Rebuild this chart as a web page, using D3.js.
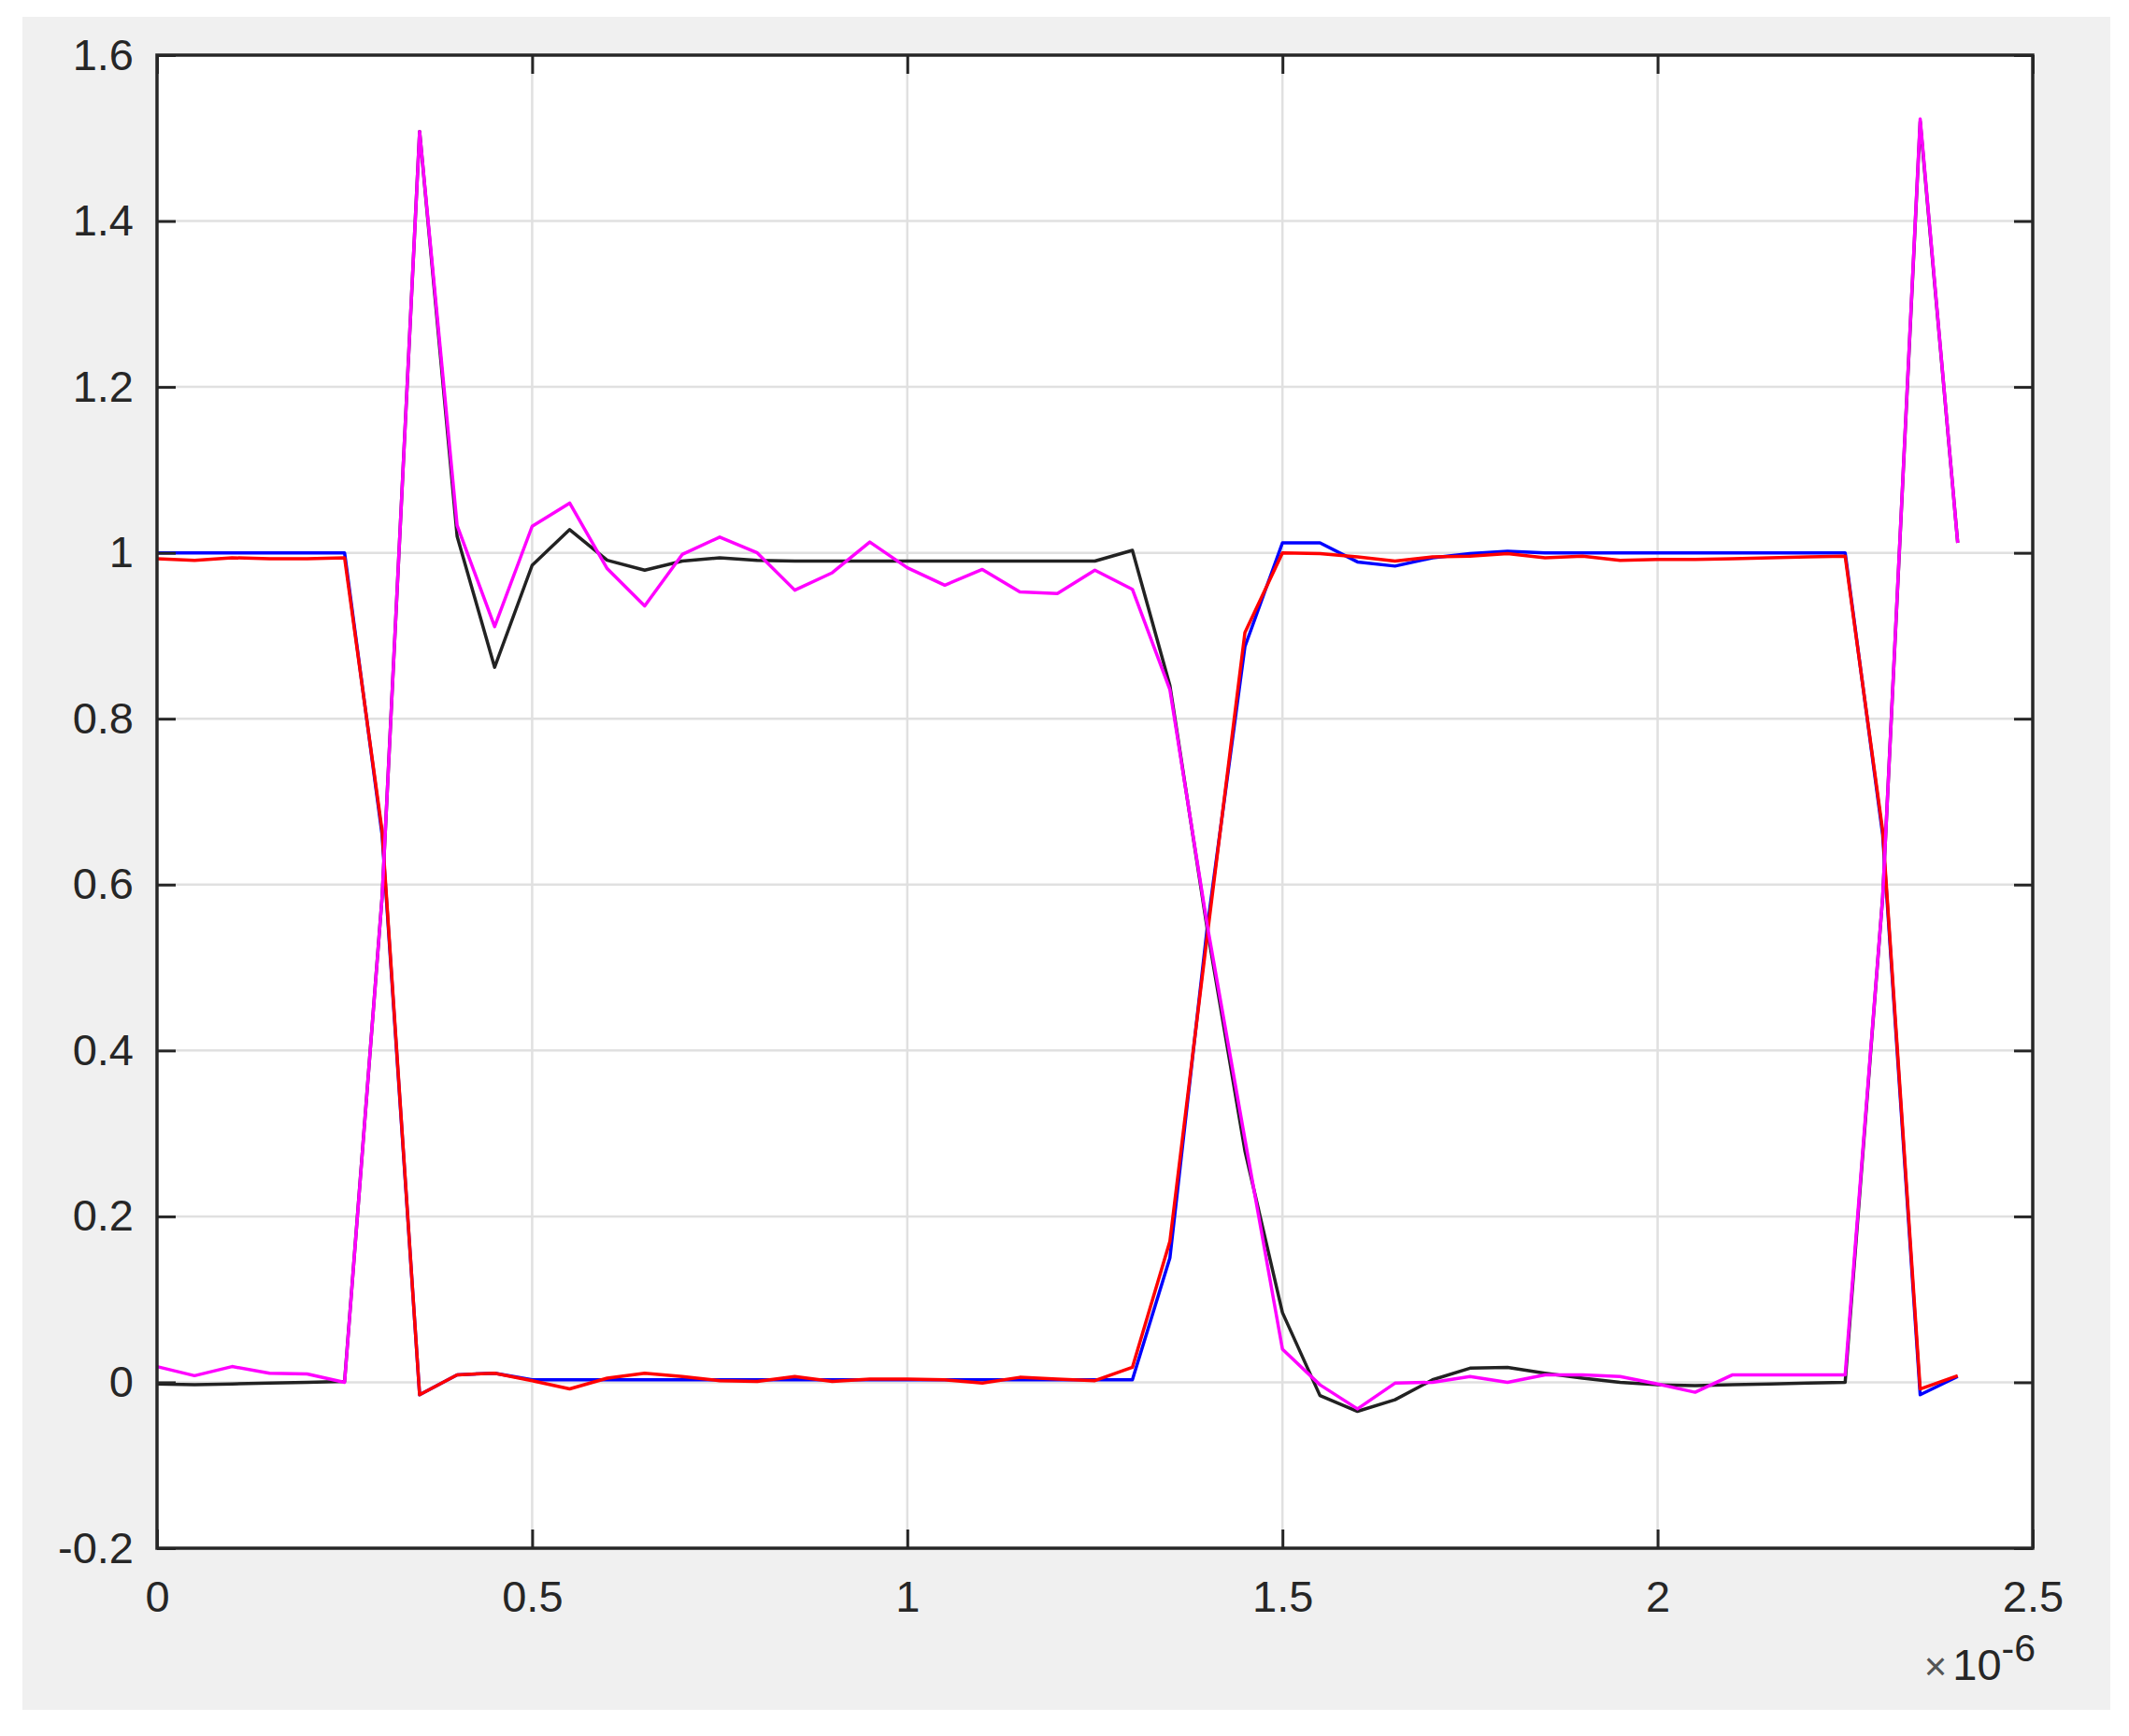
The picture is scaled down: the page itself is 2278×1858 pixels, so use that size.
<!DOCTYPE html>
<html>
<head>
<meta charset="utf-8">
<script src="https://cdn.jsdelivr.net/npm/d3@7"></script>
<style>
  html, body { margin: 0; padding: 0; background: #fff; }
  svg { display: block; font-family: "Liberation Sans", Arial, Helvetica, sans-serif; }
  .tick text { fill: #262626; font-size: 47px; }
  .domain { display: none; }
</style>
</head>
<body>
<div id="chart"></div>
<script>
// sample times, in microseconds (axis shows x10^-6)
const timeUs = [0, 0.05, 0.1, 0.15, 0.2, 0.25, 0.3, 0.35, 0.4, 0.45,
  0.5, 0.55, 0.6, 0.65, 0.7, 0.75, 0.8, 0.85, 0.9, 0.95,
  1.0, 1.05, 1.1, 1.15, 1.2, 1.25, 1.3, 1.35, 1.4, 1.45,
  1.5, 1.55, 1.6, 1.65, 1.7, 1.75, 1.8, 1.85, 1.9, 1.95,
  2.0, 2.05, 2.1, 2.15, 2.2, 2.25, 2.3, 2.35, 2.4]

const blueVals = [1.0, 1.0, 1.0, 1.0, 1.0, 1.0, 0.66, -0.015, 0.009, 0.011,
  0.003, 0.003, 0.003, 0.003, 0.003, 0.003, 0.003, 0.003, 0.003, 0.003,
  0.003, 0.003, 0.003, 0.003, 0.003, 0.003, 0.003, 0.15, 0.55, 0.887,
  1.012, 1.012, 0.989, 0.984, 0.994, 0.999, 1.002, 1.0, 1.0, 1.0,
  1.0, 1.0, 1.0, 1.0, 1.0, 1.0, 0.66, -0.015, 0.007]

const blackVals = [-0.002, -0.003, -0.002, -0.001, 0.0, 0.001, 0.585, 1.508, 1.02, 0.862,
  0.985, 1.028, 0.991, 0.979, 0.99, 0.994, 0.991, 0.99, 0.99, 0.99,
  0.99, 0.99, 0.99, 0.99, 0.99, 0.99, 1.003, 0.84, 0.545, 0.279,
  0.084, -0.016, -0.035, -0.021, 0.003, 0.017, 0.018, 0.011, 0.005, 0.0,
  -0.003, -0.004, -0.003, -0.002, -0.001, 0.0, 0.585, 1.52, 1.012]

const redVals = [0.993, 0.991, 0.994, 0.993, 0.993, 0.994, 0.665, -0.015, 0.009, 0.011,
  0.002, -0.008, 0.005, 0.011, 0.007, 0.002, 0.001, 0.007, 0.001, 0.004,
  0.004, 0.003, -0.001, 0.006, 0.004, 0.002, 0.018, 0.17, 0.54, 0.904,
  1.0, 0.999, 0.995, 0.99, 0.995, 0.996, 0.999, 0.994, 0.996, 0.991,
  0.992, 0.992, 0.993, 0.994, 0.995, 0.996, 0.665, -0.008, 0.008]

const magentaVals = [0.019, 0.008, 0.019, 0.011, 0.01, 0.0, 0.585, 1.508, 1.033, 0.911,
  1.032, 1.06, 0.981, 0.936, 0.998, 1.019, 1.0, 0.955, 0.976, 1.013,
  0.982, 0.961, 0.98, 0.953, 0.951, 0.979, 0.956, 0.835, 0.55, 0.293,
  0.04, -0.003, -0.032, -0.001, 0.0, 0.007, 0.0, 0.009, 0.009, 0.007,
  -0.002, -0.012, 0.009, 0.009, 0.009, 0.009, 0.585, 1.523, 1.012]

const xTicks = [0, 0.5, 1, 1.5, 2, 2.5]
const yTicks = [-0.2, 0, 0.2, 0.4, 0.6, 0.8, 1, 1.2, 1.4, 1.6]

const series = [
  {name: 'blue', color: '#0000ff', values: blueVals},
  {name: 'black', color: '#222222', values: blackVals},
  {name: 'red', color: '#ff0000', values: redVals},
  {name: 'magenta', color: '#ff00ff', values: magentaVals}
]

const width = 2278
const height = 1858
const plot = {left: 168, right: 2175, top: 59, bottom: 1657}

const x = d3.scaleLinear().domain([0, 2.5]).range([plot.left, plot.right])
const y = d3.scaleLinear().domain([-0.2, 1.6]).range([plot.bottom, plot.top])

const svg = d3.select('#chart')
  .append('svg')
  .attr('width', width)
  .attr('height', height)

// figure background
svg.append('rect')
  .attr('x', 24).attr('y', 18)
  .attr('width', 2234).attr('height', 1812)
  .attr('fill', '#f0f0f0')

svg.append('rect')
  .attr('x', plot.left).attr('y', plot.top)
  .attr('width', plot.right - plot.left).attr('height', plot.bottom - plot.top)
  .attr('fill', '#fff')

// grid
const grid = svg.append('g')
grid.selectAll('.vgrid')
  .data(xTicks.slice(1, -1))
  .enter()
  .append('line')
  .attr('x1', d => x(d)).attr('x2', d => x(d))
  .attr('y1', plot.top).attr('y2', plot.bottom)
  .attr('stroke', '#e0e0e0')
  .attr('stroke-width', 2.5)

grid.selectAll('.hgrid')
  .data(yTicks.slice(1, -1))
  .enter()
  .append('line')
  .attr('y1', d => y(d)).attr('y2', d => y(d))
  .attr('x1', plot.left).attr('x2', plot.right)
  .attr('stroke', '#e0e0e0')
  .attr('stroke-width', 2.5)

// lines
const line = d3.line()
  .x((d, i) => x(timeUs[i]))
  .y(d => y(d))

svg.append('g')
  .selectAll('path')
  .data(series)
  .enter()
  .append('path')
  .attr('d', d => line(d.values))
  .attr('fill', 'none')
  .attr('stroke', d => d.color)
  .attr('stroke-width', 3.5)
  .attr('stroke-linejoin', 'round')

// axes, ticks pointing inwards
const fmt = d => String(+d.toFixed(1))

const styleTicks = g => g.selectAll('.tick line').attr('stroke', '#262626').attr('stroke-width', 3)

svg.append('g')
  .attr('transform', `translate(0,${plot.bottom})`)
  .call(d3.axisBottom(x).tickValues(xTicks).tickSize(-20).tickPadding(35).tickFormat(fmt))
  .call(styleTicks)

svg.append('g')
  .attr('transform', `translate(0,${plot.top})`)
  .call(d3.axisTop(x).tickValues(xTicks).tickSize(-20).tickFormat(''))
  .call(styleTicks)

svg.append('g')
  .attr('transform', `translate(${plot.left},0)`)
  .call(d3.axisLeft(y).tickValues(yTicks).tickSize(-20).tickPadding(25).tickFormat(fmt))
  .call(styleTicks)

svg.append('g')
  .attr('transform', `translate(${plot.right},0)`)
  .call(d3.axisRight(y).tickValues(yTicks).tickSize(-20).tickFormat(''))
  .call(styleTicks)

svg.selectAll('.tick text').attr('font-family', null)

// axes box
svg.append('rect')
  .attr('x', plot.left).attr('y', plot.top)
  .attr('width', plot.right - plot.left).attr('height', plot.bottom - plot.top)
  .attr('fill', 'none')
  .attr('stroke', '#262626')
  .attr('stroke-width', 3.5)

// exponent label
const expo = svg.append('text')
  .attr('x', 2178)
  .attr('y', 1798)
  .attr('text-anchor', 'end')
  .attr('fill', '#262626')
  .attr('font-size', 47)

expo.append('tspan').attr('fill', '#555').attr('font-size', 42).text('\u00d7')
expo.append('tspan').attr('dx', 6).text('10')
expo.append('tspan').attr('dy', -20).attr('font-size', 41).text('-6')
</script>
</body>
</html>
